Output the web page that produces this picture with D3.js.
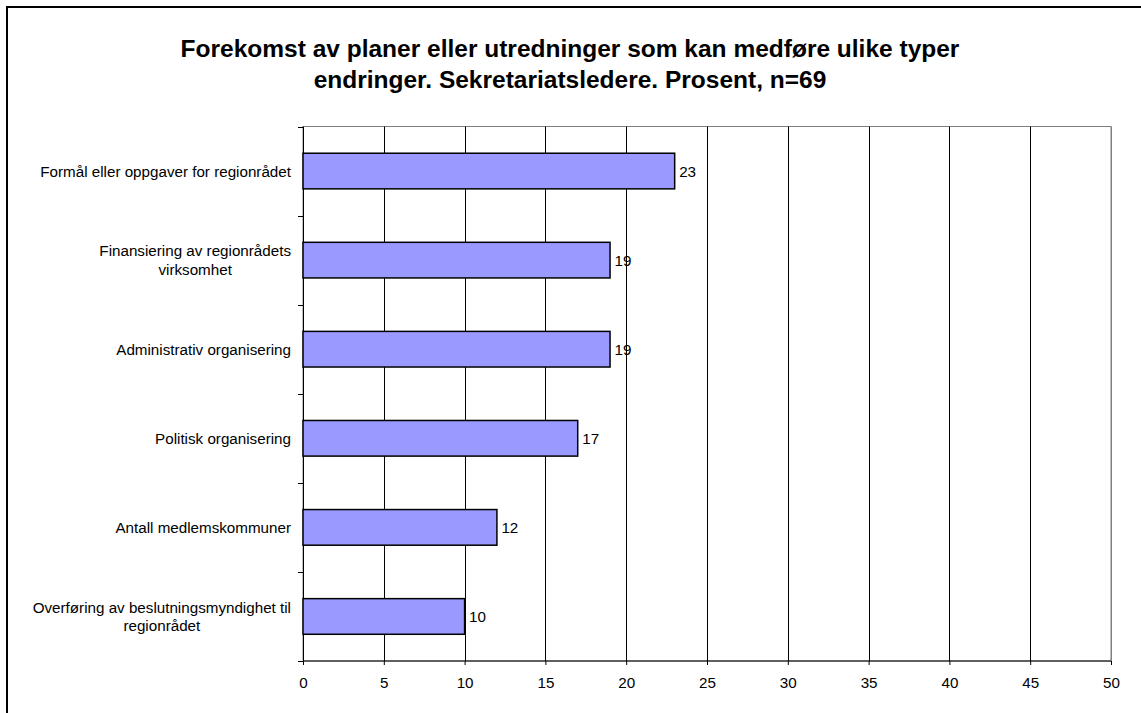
<!DOCTYPE html>
<html lang="en">
<head>
    <meta charset="UTF-8">
    <title>Forekomst av planer</title>
    <script src="https://d3js.org/d3.v7.min.js"></script>
    <style>
        body { margin: 0; background: #fff; }
        text { font-family: Arial, "Liberation Sans", sans-serif; fill: #000; }
    </style>
</head>
<body>
    <div id="chart"></div>
    <script>
        // Data
        const categories = [
            ["Formål eller oppgaver for regionrådet"],
            ["Finansiering av regionrådets", "virksomhet"],
            ["Administrativ organisering"],
            ["Politisk organisering"],
            ["Antall medlemskommuner"],
            ["Overføring av beslutningsmyndighet til", "regionrådet"]
        ];
        const values = [23, 19, 19, 17, 12, 10];
        const xTicks = [0, 5, 10, 15, 20, 25, 30, 35, 40, 45, 50];
        const titleLines = [
            "Forekomst av planer eller utredninger som kan medføre ulike typer",
            "endringer. Sekretariatsledere. Prosent, n=69"
        ];

        const width = 1141;
        const height = 713;
        const plot = { left: 303, right: 1111, top: 126.5, bottom: 661 };
        const smallFont = "15.2px";

        const svg = d3.select("#chart")
            .append("svg")
            .attr("width", width)
            .attr("height", height);

        // Outer chart border (only left and top are visible in the frame)
        svg.append("rect")
            .attr("x", 7)
            .attr("y", 7)
            .attr("width", 1140)
            .attr("height", 720)
            .attr("fill", "none")
            .attr("stroke", "#000")
            .attr("stroke-width", 2);

        // Title
        svg.append("text")
            .attr("x", 570)
            .attr("y", 57)
            .attr("text-anchor", "middle")
            .style("font-size", "24.5px")
            .style("font-weight", "bold")
            .selectAll("tspan")
            .data(titleLines)
            .join("tspan")
            .attr("x", 570)
            .attr("dy", (d, i) => i === 0 ? 0 : 31)
            .text(d => d);

        const x = d3.scaleLinear()
            .domain([0, 50])
            .range([plot.left, plot.right]);

        const y = d3.scaleBand()
            .domain(d3.range(categories.length))
            .range([plot.top, plot.bottom])
            .paddingInner(0.6)
            .paddingOuter(0.3);

        // Plot area frame + gridlines
        svg.append("rect")
            .attr("x", plot.left)
            .attr("y", plot.top)
            .attr("width", plot.right - plot.left)
            .attr("height", plot.bottom - plot.top)
            .attr("fill", "none")
            .attr("stroke", "#808080")
            .attr("stroke-width", 1);

        svg.append("g")
            .selectAll("line")
            .data(xTicks.slice(1))
            .join("line")
            .attr("x1", d => Math.round(x(d)) + 0.5)
            .attr("x2", d => Math.round(x(d)) + 0.5)
            .attr("y1", plot.top)
            .attr("y2", plot.bottom)
            .attr("stroke", d => d === 50 ? "#808080" : "#000")
            .attr("stroke-width", 1);

        // X axis
        const xAxis = svg.append("g")
            .attr("transform", `translate(0,${plot.bottom})`)
            .call(d3.axisBottom(x).tickValues(xTicks).tickSize(4).tickPadding(12).tickFormat(d3.format("d")));
        xAxis.select(".domain").attr("stroke", "#000").attr("d", `M${plot.left},0H${plot.right}`);
        xAxis.selectAll("text").style("font-size", smallFont).attr("fill", "#000");

        // Y axis with ticks between categories
        const boundaries = d3.range(categories.length + 1).map(i => plot.top + i * (plot.bottom - plot.top) / categories.length);
        svg.append("line")
            .attr("x1", plot.left + 0.5).attr("x2", plot.left + 0.5)
            .attr("y1", plot.top).attr("y2", plot.bottom)
            .attr("stroke", "#000");
        svg.append("g")
            .selectAll("line")
            .data(boundaries)
            .join("line")
            .attr("x1", plot.left - 5)
            .attr("x2", plot.left)
            .attr("y1", d => Math.round(d) + 0.5)
            .attr("y2", d => Math.round(d) + 0.5)
            .attr("stroke", "#000");

        // Bars
        svg.append("g")
            .selectAll("rect")
            .data(values)
            .join("rect")
            .attr("x", x(0))
            .attr("y", (d, i) => y(i))
            .attr("width", d => x(d) - x(0))
            .attr("height", y.bandwidth())
            .attr("fill", "#9999FF")
            .attr("stroke", "#000")
            .attr("stroke-width", 1.5);

        // Value labels
        svg.append("g")
            .selectAll("text")
            .data(values)
            .join("text")
            .attr("x", d => x(d) + 4.5)
            .attr("y", (d, i) => y(i) + y.bandwidth() / 2)
            .attr("dy", "0.36em")
            .style("font-size", smallFont)
            .text(d => d);

        // Category labels: block right-aligned, lines centered
        const labels = svg.append("g");
        categories.forEach((lines, i) => {
            const cy = y(i) + y.bandwidth() / 2;
            const t = labels.append("text")
                .attr("text-anchor", "middle")
                .style("font-size", smallFont);
            const lh = 18.5;
            lines.forEach((line, j) => {
                t.append("tspan")
                    .attr("y", cy + (j - (lines.length - 1) / 2) * lh)
                    .attr("dy", "0.36em")
                    .text(line);
            });
            const w = d3.max(t.selectAll("tspan").nodes(), n => n.getComputedTextLength());
            t.selectAll("tspan").attr("x", 291 - w / 2);
        });
    </script>
</body>
</html>
